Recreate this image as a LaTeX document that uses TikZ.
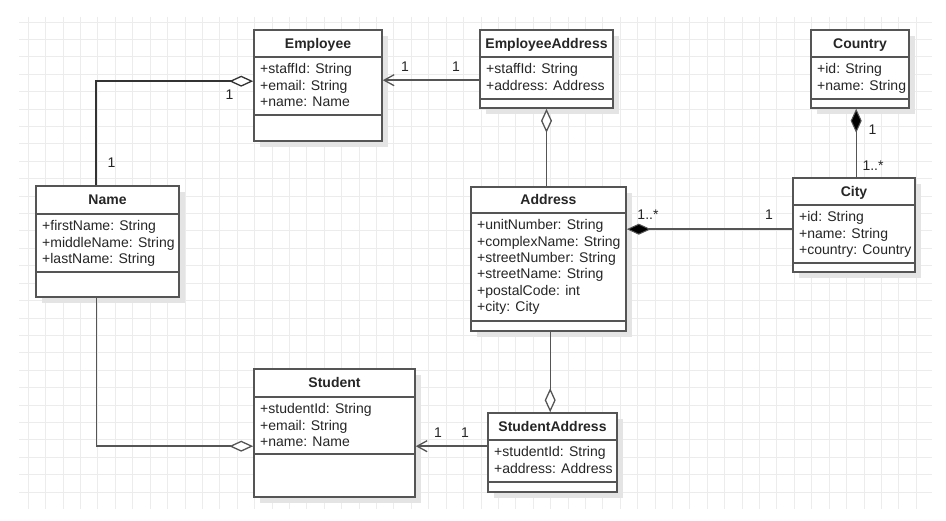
\documentclass[tikz,border=0pt]{standalone}
\usepackage{fontspec}
\setmainfont{Liberation Sans}
\usetikzlibrary{arrows.meta,calc,shadows}
\definecolor{edgegray}{RGB}{85,85,85}
\definecolor{gridgray}{RGB}{236,236,236}
\definecolor{shadowgray}{RGB}{228,228,228}
\tikzset{
  classbox/.style={draw=edgegray, line width=1.6pt, fill=white, inner sep=0pt,
    general shadow={fill=shadowgray, shadow xshift=6pt, shadow yshift=-6pt}},
  boxline/.style={draw=edgegray, line width=1.6pt},
  titletext/.style={font=\fontsize{14}{16.3}\selectfont\bfseries, inner sep=0pt, text=black!85, anchor=base},
  attrtext/.style={font=\fontsize{14}{16.3}\selectfont, inner sep=0pt, align=left, text=black!85, anchor=north west},
  multlabel/.style={font=\fontsize{14}{16}\selectfont, inner sep=0pt, text=black!85},
  gridline/.style={draw=gridgray, line width=0.9pt},
  conn/.style={draw=edgegray, line width=1.4pt},
  aggr/.style={conn, -{Diamond[length=24pt,width=11pt,fill=white,line width=1.3pt]}},
  compo/.style={conn, -{Diamond[length=24pt,width=11pt,fill=black,line width=1pt]}},
  assoc/.style={conn, -{Straight Barb[length=10pt,width=11pt,line width=1.3pt]}}
}
% #1 id, #2 L, #3 T, #4 R, #5 B, #6 header line, #7 divider line, #8 title, #9 attributes
\newcommand\umlclass[9]{%
  \node[classbox, minimum width={#4-#2}, minimum height={#5-#3}] (#1) at ({(#2+#4)/2},{(#3+#5)/2}) {};
  \draw[boxline] (#2,#6) -- (#4,#6);
  \draw[boxline] (#2,#7) -- (#4,#7);
  \node[titletext] (#1-title) at ({(#2+#4)/2},{(#3+#6)/2+5}) {#8};
  \node[attrtext] (#1-attrs) at ({#2+6},{#6+6.6}) {#9};
}
\begin{document}
\begin{tikzpicture}[x=1pt,y=-1pt]
\useasboundingbox (0,0) rectangle (946,521);
\fill[white] (0,0) rectangle (946,521);
% grid
\foreach \i in {0,...,51} \draw[gridline] ({28.3+17.41*\i},17) -- ({28.3+17.41*\i},509);
\foreach \j in {0,...,27} \draw[gridline] (19,{22+17.41*\j}) -- (932,{22+17.41*\j});

% classes
\umlclass{emp}{254}{30}{382}{141}{57}{115}{Employee}{+staffId: String\\+email: String\\+name: Name}
\umlclass{ea}{480}{30}{613}{108}{57}{99}{EmployeeAddress}{+staffId: String\\+address: Address}
\umlclass{addr}{471}{187}{626}{331}{213}{321}{Address}{+unitNumber: String\\+complexName: String\\+streetNumber: String\\+streetName: String\\+postalCode: int\\+city: City}
\umlclass{ctry}{811}{30}{909}{108}{57}{99}{Country}{+id: String\\+name: String}
\umlclass{city}{793}{178}{915}{272}{205}{263}{City}{+id: String\\+name: String\\+country: Country}
\umlclass{nm}{36}{186}{179}{297}{214}{272}{Name}{+firstName: String\\+middleName: String\\+lastName: String}
\umlclass{stu}{254}{369}{415}{497}{397}{454}{Student}{+studentId: String\\+email: String\\+name: Name}
\umlclass{sa}{488}{413}{617}{492}{440}{482}{StudentAddress}{+studentId: String\\+address: Address}

% connector anchor points
\coordinate (nmTop) at ($(nm.north west)+(61,0)$);
\coordinate (empIn) at ($(emp.north west)+(0,52)$);
\coordinate (nmBot) at ($(nm.south west)+(61,0)$);
\coordinate (stuIn) at ($(stu.north west)+(0,78)$);
\coordinate (eaL) at ($(ea.north west)+(0,51)$);
\coordinate (saL) at ($(sa.north west)+(0,34)$);
\coordinate (cityL) at ($(city.north west)+(0,52)$);
\coordinate (cityTop) at ($(city.north west)+(64,0)$);
\coordinate (addrBot) at ($(addr.south west)+(80,0)$);

% connectors
\draw[aggr, line width=2.2pt, draw=black!80] (nmTop) |- (empIn);
\draw[aggr] (nmBot) |- (stuIn);
\draw[assoc] (eaL) -- (eaL -| emp.east);
\draw[assoc] (saL) -- (saL -| stu.east);
\draw[aggr] (ea.south |- addr.north) -- (ea.south);
\draw[aggr] (addrBot) -- (addrBot |- sa.north);
\draw[compo] (cityL) -- (cityL -| addr.east);
\draw[compo] (cityTop) -- (cityTop |- ctry.south);

% multiplicities
\node[multlabel] (m1) at (229.5,95) {1};
\node[multlabel] (m2) at (111.5,163) {1};
\node[multlabel] (m3) at (405,66.5) {1};
\node[multlabel] (m4) at (456,66.5) {1};
\node[multlabel] (m5) at (648,215) {1..*};
\node[multlabel] (m6) at (769,215) {1};
\node[multlabel] (m7) at (872.5,130) {1};
\node[multlabel] (m8) at (873,166) {1..*};
\node[multlabel] (m9) at (438,432.5) {1};
\node[multlabel] (m10) at (465,432.5) {1};
\end{tikzpicture}
\end{document}
